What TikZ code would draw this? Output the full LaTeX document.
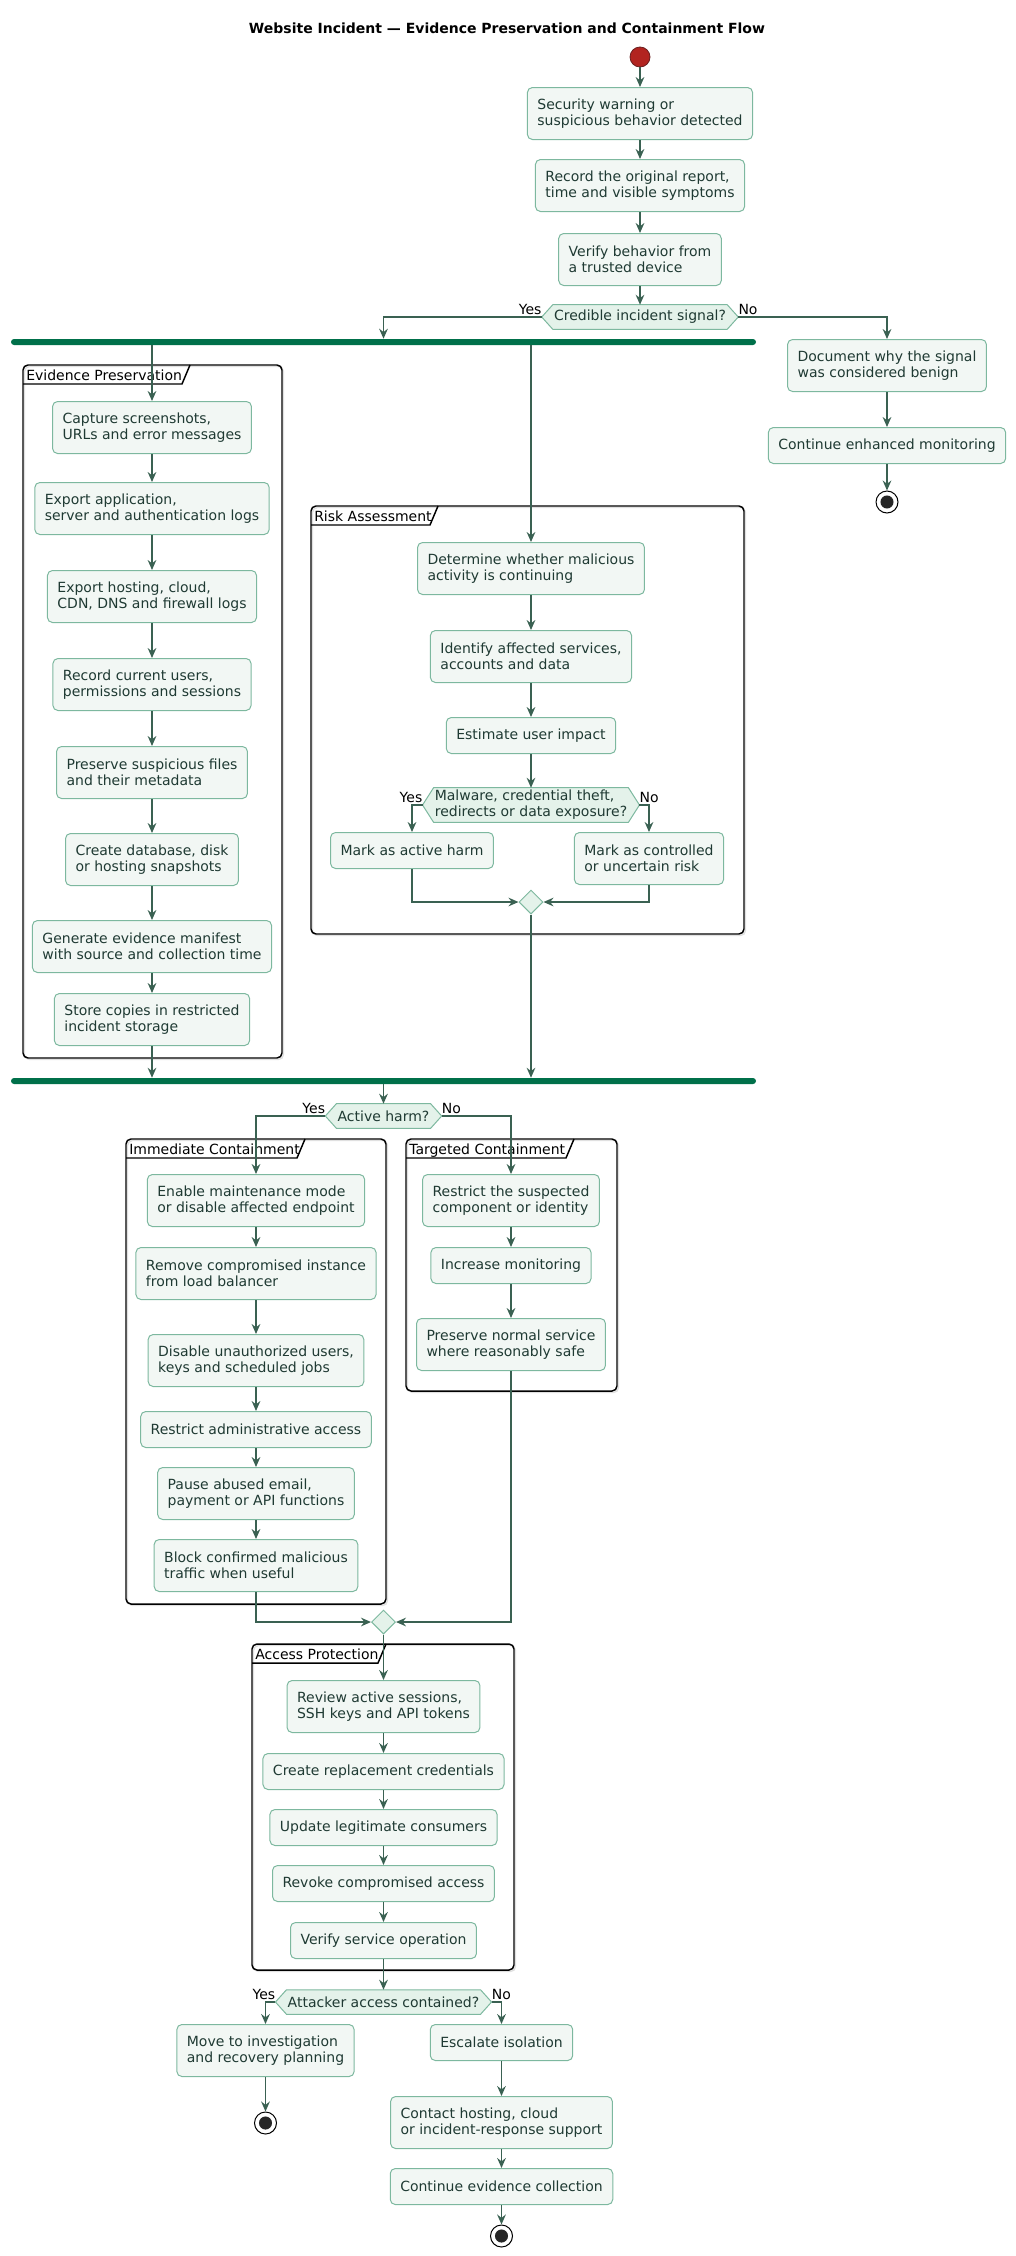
\documentclass[tikz,border=0pt]{standalone}
\usepackage{fontspec}
\setmainfont{DejaVu Sans}
\usetikzlibrary{arrows.meta,calc,backgrounds,shapes.geometric}
\definecolor{boxfill}{HTML}{F2F7F4}
\definecolor{boxdraw}{HTML}{7DB89F}
\definecolor{boxtext}{HTML}{1F3A33}
\definecolor{decfill}{HTML}{E4F2EA}
\definecolor{arrowc}{HTML}{3A6152}
\definecolor{barc}{HTML}{00704A}
\definecolor{startc}{HTML}{B22420}
\definecolor{startd}{HTML}{6B1F1F}
\newcommand\dfont{\fontsize{10.5pt}{12pt}\selectfont}
\begin{document}
\begin{tikzpicture}[x=0.75pt,y=-0.75pt,
  act/.style={draw=boxdraw, fill=boxfill, rounded corners=3.75pt, line width=0.75pt, text=boxtext, align=left, inner xsep=7.5pt, inner ysep=0pt, minimum height=27pt, anchor=north, font=\dfont},
  two/.style={minimum height=39pt},
  dec/.style={text=boxtext, align=left, inner xsep=0.75pt, inner ysep=0pt, minimum height=18pt, font=\dfont},
  decshape/.style={draw=boxdraw, fill=decfill, line width=0.75pt},
  merge/.style={diamond, draw=boxdraw, fill=decfill, line width=0.75pt, inner sep=0pt, minimum width=18pt, minimum height=18pt},
  flow/.style={draw=arrowc, line width=1.1pt, -{Stealth[length=7.5pt,width=6.5pt,inset=2.5pt]}},
  frame/.style={draw=black, line width=1.1pt, rounded corners=3.75pt},
  fshadow/.style={draw=black!12, line width=1pt, rounded corners=3.75pt},
  tabline/.style={draw=black, line width=1.1pt},
  lbl/.style={font=\dfont, text=black, inner sep=0pt},
  bar/.style={fill=barc, rounded corners=2.25pt, minimum width=558.75pt, minimum height=4.5pt, inner sep=0pt},
  startn/.style={circle, fill=startc, draw=startd, line width=0.6pt, minimum size=15pt, inner sep=0pt},
  endn/.style={circle, fill=white, draw=black, line width=0.75pt, minimum size=16.5pt, inner sep=0pt,
     path picture={\fill[black!85] (path picture bounding box.center) circle (4.9pt);}}
]
\useasboundingbox (0,0) rectangle (1015,2256);

% title
\node[font=\bfseries\dfont, text=black] (title) at (507,28) {Website Incident — Evidence Preservation and Containment Flow};

% frames (partitions) with faint shadow
\draw[fshadow] (24.5,366.5) rectangle (283.5,1059.5);
\draw[frame] (23,365) rectangle (282,1058);
\draw[tabline] (23,384) -- (182,384) -- (190,365);
\node[lbl, anchor=base west] (tabev) at (26,380) {Evidence Preservation};

\draw[fshadow] (312.5,507.5) rectangle (745.5,935.5);
\draw[frame] (311,506) rectangle (744,934);
\draw[tabline] (311,525) -- (430,525) -- (438,506);
\node[lbl, anchor=base west] (tabrisk) at (314,521) {Risk Assessment};

\draw[fshadow] (127.5,1140.5) rectangle (387.5,1605.5);
\draw[frame] (126,1139) rectangle (386,1604);
\draw[tabline] (126,1158) -- (297,1158) -- (305,1139);
\node[lbl, anchor=base west] (tabimm) at (129,1154) {Immediate Containment};

\draw[fshadow] (407.5,1140.5) rectangle (618.5,1392.5);
\draw[frame] (406,1139) rectangle (617,1391);
\draw[tabline] (406,1158) -- (566,1158) -- (574,1139);
\node[lbl, anchor=base west] (tabtgt) at (409,1154) {Targeted Containment};

\draw[fshadow] (253.5,1645.5) rectangle (515.5,1971.5);
\draw[frame] (252,1644) rectangle (514,1970);
\draw[tabline] (252,1663) -- (378,1663) -- (386,1644);
\node[lbl, anchor=base west] (tabacc) at (255,1659) {Access Protection};

% main column
\node[startn] (start) at (640,57) {};
\node[act,two] (b1) at (640,87) {Security warning or\\suspicious behavior detected};
\node[act,two] (b2) at (640,159) {Record the original report,\\time and visible symptoms};
\node[act,two] (b3) at (640,233) {Verify behavior from\\a trusted device};
\node[dec] (d1) at (640,317) {Credible incident signal?};
\coordinate (d1L) at ($(d1.west)+(-11,0)$);
\coordinate (d1R) at ($(d1.east)+(11,0)$);
\node[lbl, anchor=base east] (y1) at ($(d1L)+(0,-3)$) {Yes};
\node[lbl, anchor=base west] (n1) at ($(d1R)+(0,-3)$) {No};

% benign branch
\node[act,two] (doc) at (887,339) {Document why the signal\\was considered benign};
\node[act] (cm) at (887,427) {Continue enhanced monitoring};
\node[endn] (end1) at (887,502) {};

% fork bar
\node[bar] (bar1) at (383.5,342) {};

% evidence column
\node[act,two] (e1) at (152,401) {Capture screenshots,\\URLs and error messages};
\node[act,two] (e2) at (152,482) {Export application,\\server and authentication logs};
\node[act,two] (e3) at (152,570) {Export hosting, cloud,\\CDN, DNS and firewall logs};
\node[act,two] (e4) at (152,658) {Record current users,\\permissions and sessions};
\node[act,two] (e5) at (152,746) {Preserve suspicious files\\and their metadata};
\node[act,two] (e6) at (152,833) {Create database, disk\\or hosting snapshots};
\node[act,two] (e7) at (152,920) {Generate evidence manifest\\with source and collection time};
\node[act,two] (e8) at (152,993) {Store copies in restricted\\incident storage};

% risk column
\node[act,two] (r1) at (531,542) {Determine whether malicious\\activity is continuing};
\node[act,two] (r2) at (531,630) {Identify affected services,\\accounts and data};
\node[act] (r3) at (531,717) {Estimate user impact};
\node[dec, minimum height=25.5pt] (r4) at (531,805) {Malware, credential theft,\\redirects or data exposure?};
\coordinate (r4L) at ($(r4.west)+(-11,0)$);
\coordinate (r4R) at ($(r4.east)+(11,0)$);
\node[lbl, anchor=base east] (y2) at ($(r4L)+(0,-3)$) {Yes};
\node[lbl, anchor=base west] (n2) at ($(r4R)+(0,-3)$) {No};
\node[act] (r5a) at (412,832) {Mark as active harm};
\node[act,two] (r5b) at (649,832) {Mark as controlled\\or uncertain risk};
\node[merge] (mg1) at (531,902) {};

% join bar
\node[bar] (bar2) at (383.5,1081) {};

% decision active harm
\node[dec] (d2) at (383.5,1116) {Active harm?};
\coordinate (d2L) at ($(d2.west)+(-11,0)$);
\coordinate (d2R) at ($(d2.east)+(11,0)$);
\node[lbl, anchor=base east] (y3) at ($(d2L)+(0,-3)$) {Yes};
\node[lbl, anchor=base west] (n3) at ($(d2R)+(0,-3)$) {No};

% immediate containment
\node[act,two] (i1) at (256,1174) {Enable maintenance mode\\or disable affected endpoint};
\node[act,two] (i2) at (256,1247) {Remove compromised instance\\from load balancer};
\node[act,two] (i3) at (256,1334) {Disable unauthorized users,\\keys and scheduled jobs};
\node[act] (i4) at (256,1411) {Restrict administrative access};
\node[act,two] (i5) at (256,1467) {Pause abused email,\\payment or API functions};
\node[act,two] (i6) at (256,1539) {Block confirmed malicious\\traffic when useful};

% targeted containment
\node[act,two] (t1) at (511,1174) {Restrict the suspected\\component or identity};
\node[act] (t2) at (511,1247) {Increase monitoring};
\node[act,two] (t3) at (511,1318) {Preserve normal service\\where reasonably safe};

\node[merge] (mg2) at (383.5,1622) {};

% access protection
\node[act,two] (a1) at (383.5,1680) {Review active sessions,\\SSH keys and API tokens};
\node[act] (a2) at (383.5,1753) {Create replacement credentials};
\node[act] (a3) at (383.5,1809) {Update legitimate consumers};
\node[act] (a4) at (383.5,1865) {Revoke compromised access};
\node[act] (a5) at (383.5,1922) {Verify service operation};
\node[dec] (d3) at (383.5,2002) {Attacker access contained?};
\coordinate (d3L) at ($(d3.west)+(-11,0)$);
\coordinate (d3R) at ($(d3.east)+(11,0)$);
\node[lbl, anchor=base east] (y4) at ($(d3L)+(0,-3)$) {Yes};
\node[lbl, anchor=base west] (n4) at ($(d3R)+(0,-3)$) {No};

\node[act,two] (m1) at (265.5,2024) {Move to investigation\\and recovery planning};
\node[endn] (end2) at (265.5,2123) {};
\node[act] (s1) at (501.5,2024) {Escalate isolation};
\node[act,two] (s2) at (501.5,2096) {Contact hosting, cloud\\or incident-response support};
\node[act] (s3) at (501.5,2168) {Continue evidence collection};
\node[endn] (end3) at (501.5,2236) {};

% decision hexagons
\begin{scope}[on background layer]
\foreach \d in {d1,r4,d2,d3}{
  \draw[decshape] ($(\d.west)+(-11,0)$) -- (\d.north west) -- (\d.north east) -- ($(\d.east)+(11,0)$) -- (\d.south east) -- (\d.south west) -- cycle;
}
\end{scope}

% connectors
\draw[flow] (start) -- (b1);
\draw[flow] (b1) -- (b2);
\draw[flow] (b2) -- (b3);
\draw[flow] (b3) -- (d1);
\draw[flow] (d1L) -| (bar1.north);
\draw[flow] (d1R) -| (doc.north);
\draw[flow] (doc) -- (cm);
\draw[flow] (cm) -- (end1);

\draw[flow] (bar1.south -| e1.north) -- (e1.north);
\draw[flow] (bar1.south -| r1.north) -- (r1.north);

\draw[flow] (e1) -- (e2);
\draw[flow] (e2) -- (e3);
\draw[flow] (e3) -- (e4);
\draw[flow] (e4) -- (e5);
\draw[flow] (e5) -- (e6);
\draw[flow] (e6) -- (e7);
\draw[flow] (e7) -- (e8);
\draw[flow] (e8.south) -- (e8.south |- bar2.north);

\draw[flow] (r1) -- (r2);
\draw[flow] (r2) -- (r3);
\draw[flow] (r3) -- (r4);
\draw[flow] (r4L) -| (r5a.north);
\draw[flow] (r4R) -| (r5b.north);
\draw[flow] (r5a.south) |- (mg1.west);
\draw[flow] (r5b.south) |- (mg1.east);
\draw[flow] (mg1.south) -- (mg1.south |- bar2.north);

\draw[flow] (bar2.south -| d2.north) -- (d2.north);
\draw[flow] (d2L) -| (i1.north);
\draw[flow] (d2R) -| (t1.north);

\draw[flow] (i1) -- (i2);
\draw[flow] (i2) -- (i3);
\draw[flow] (i3) -- (i4);
\draw[flow] (i4) -- (i5);
\draw[flow] (i5) -- (i6);
\draw[flow] (i6.south) |- (mg2.west);

\draw[flow] (t1) -- (t2);
\draw[flow] (t2) -- (t3);
\draw[flow] (t3.south) |- (mg2.east);

\draw[flow] (mg2) -- (a1);
\draw[flow] (a1) -- (a2);
\draw[flow] (a2) -- (a3);
\draw[flow] (a3) -- (a4);
\draw[flow] (a4) -- (a5);
\draw[flow] (a5) -- (d3);
\draw[flow] (d3L) -| (m1.north);
\draw[flow] (d3R) -| (s1.north);
\draw[flow] (m1) -- (end2);
\draw[flow] (s1) -- (s2);
\draw[flow] (s2) -- (s3);
\draw[flow] (s3) -- (end3);
\end{tikzpicture}
\end{document}
